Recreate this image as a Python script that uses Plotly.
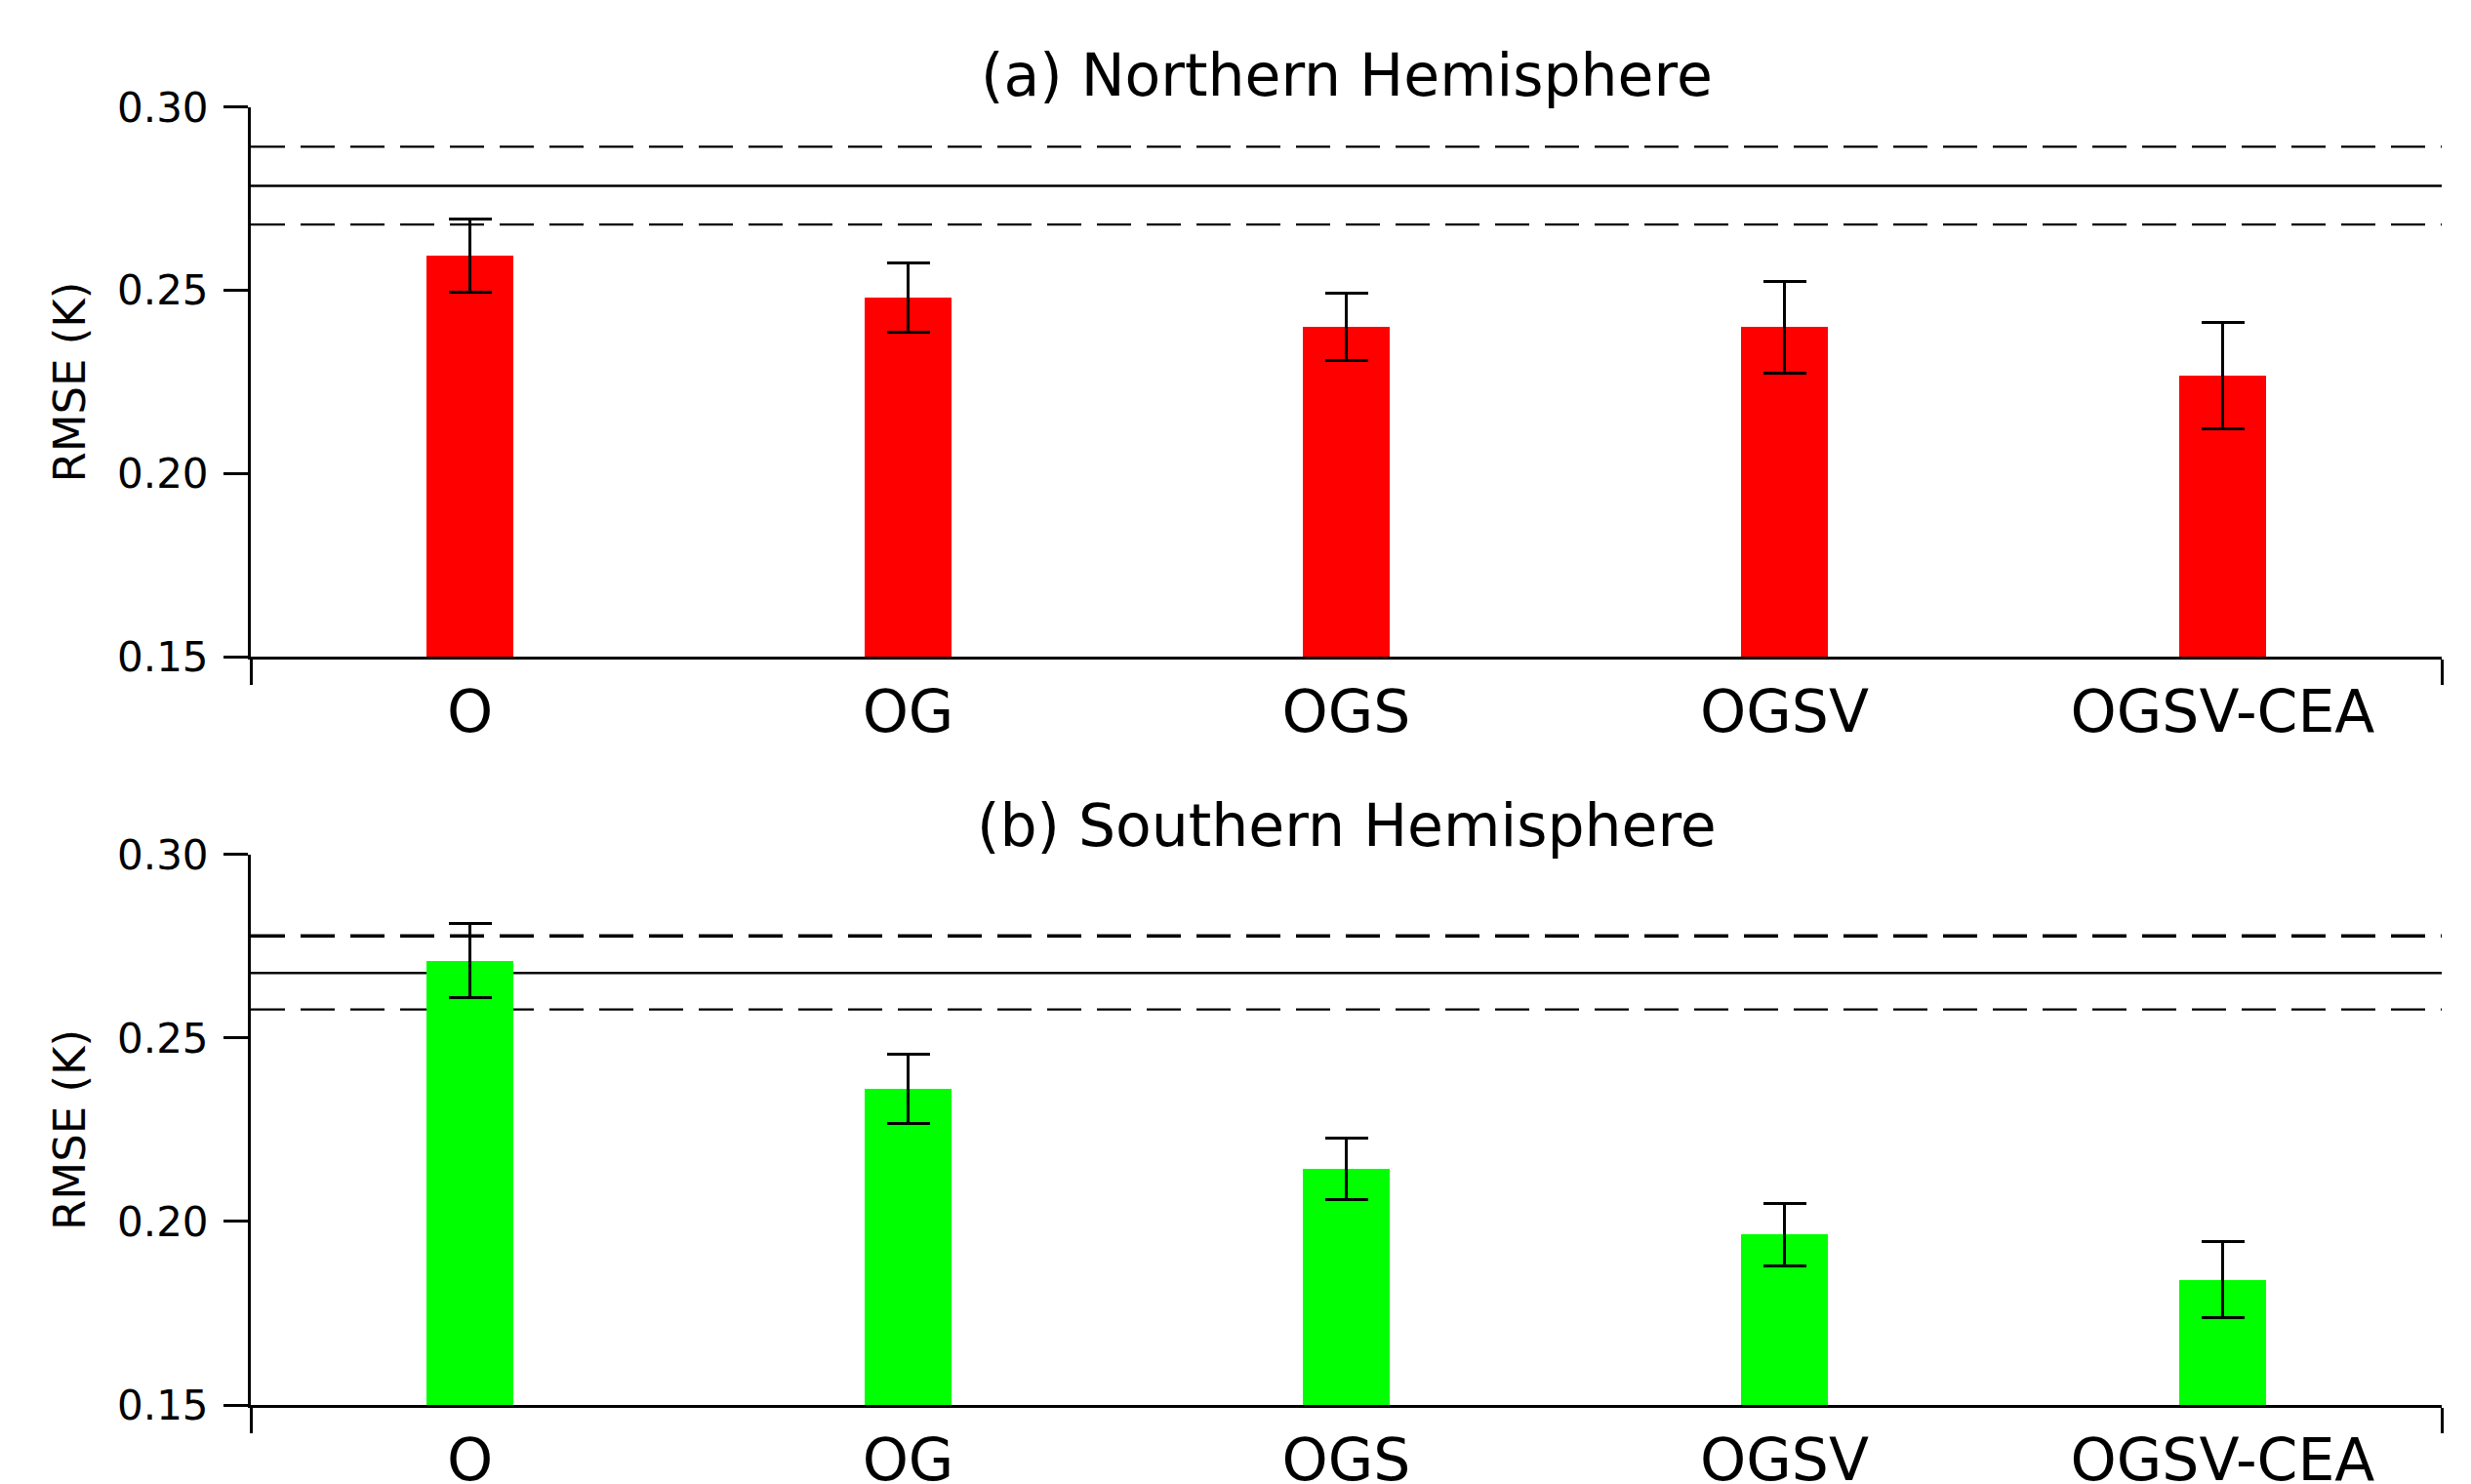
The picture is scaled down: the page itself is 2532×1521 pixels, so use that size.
import plotly.graph_objects as go

# ---- data ----
categories = ["O", "OG", "OGS", "OGSV", "OGSV-CEA"]
nh_rmse = [0.2595, 0.2480, 0.2400, 0.2400, 0.2267]
nh_err = [0.0099, 0.0095, 0.0092, 0.0125, 0.0145]
sh_rmse = [0.2710, 0.2362, 0.2143, 0.1965, 0.1842]
sh_err = [0.0101, 0.0095, 0.0084, 0.0085, 0.0103]
nh_ref = [0.2785, 0.2680, 0.2892]   # mean, lower, upper
sh_ref = [0.2677, 0.2578, 0.2778]
yticks = [0.15, 0.20, 0.25, 0.30]
panel_titles = ["(a) Northern Hemisphere", "(b) Southern Hemisphere"]
colors = ["#ff0000", "#00ff00"]

FONT = "DejaVu Sans"
W, H = 2532, 1521
OFF = 8  # page body margin


def px_x(v):
    return (v - OFF) / W


def px_y(v):
    return 1 - (v - OFF) / H


xdom = [px_x(257), px_x(2502)]
ydoms = [[px_y(673.4), px_y(109.8)], [px_y(1440.0), px_y(875.8)]]
title_y = [px_y(77.5), px_y(846.0)]

idx = list(range(len(categories)))
xr = [-0.5, len(categories) - 0.5]

fig = go.Figure()
panels = [(nh_rmse, nh_err, nh_ref), (sh_rmse, sh_err, sh_ref)]
for p, (vals, errs, ref) in enumerate(panels):
    xa = "x" if p == 0 else "x2"
    ya = "y" if p == 0 else "y2"
    fig.add_trace(go.Bar(
        x=idx, y=[v - yticks[0] for v in vals], base=yticks[0],
        width=0.2, marker=dict(color=colors[p], line=dict(width=0)),
        error_y=dict(type="data", array=errs, color="black", thickness=3, width=22),
        xaxis=xa, yaxis=ya, showlegend=False,
    ))
    dash_w_hi = 2.3 if p == 0 else 3.5
    specs = [(ref[0], "solid", 2.5), (ref[1], "35px,16px", 2.3), (ref[2], "35px,16px", dash_w_hi)]
    for v, d, w in specs:
        fig.add_shape(type="line", xref=f"{xa} domain", x0=0, x1=1, yref=ya, y0=v, y1=v,
                      line=dict(color="black", width=w, dash=d), layer="below")
    fig.add_annotation(text=panel_titles[p], xref="paper", yref="paper",
                       x=(xdom[0] + xdom[1]) / 2, y=title_y[p], xanchor="center", yanchor="middle",
                       showarrow=False, font=dict(family=FONT, size=60, color="black"))


def xaxis_def(anchor):
    return dict(domain=xdom, anchor=anchor, range=xr, tickmode="array", tickvals=idx,
                ticktext=categories, ticks="outside", ticklen=2, tickcolor="rgba(0,0,0,0)",
                showline=True, linecolor="black", linewidth=3, showgrid=False, zeroline=False,
                automargin=False,
                tickfont=dict(family=FONT, size=60, color="black"),
                minor=dict(tickmode="array", tickvals=xr, ticks="outside", ticklen=26,
                           tickwidth=3, tickcolor="black", showgrid=False))


def yaxis_def(anchor, dom):
    return dict(domain=dom, anchor=anchor, range=[yticks[0], yticks[-1]], tickmode="array",
                tickvals=yticks, tickformat=".2f", ticks="outside", ticklen=25, tickwidth=3,
                tickcolor="black", showline=True, linecolor="black", linewidth=3,
                showgrid=False, zeroline=False, automargin=False, ticklabelstandoff=7,
                tickfont=dict(family=FONT, size=42, color="black"),
                title=dict(text="RMSE (K)", font=dict(family=FONT, size=45, color="black"), standoff=19))


fig.update_layout(
    template="none",
    width=W, height=H, margin=dict(l=0, r=0, t=0, b=0, pad=0),
    paper_bgcolor="white", plot_bgcolor="white",
    xaxis=xaxis_def("y"), yaxis=yaxis_def("x", ydoms[0]),
    xaxis2=xaxis_def("y2"), yaxis2=yaxis_def("x2", ydoms[1]),
    bargap=0,
)

fig.write_html("out.html")
